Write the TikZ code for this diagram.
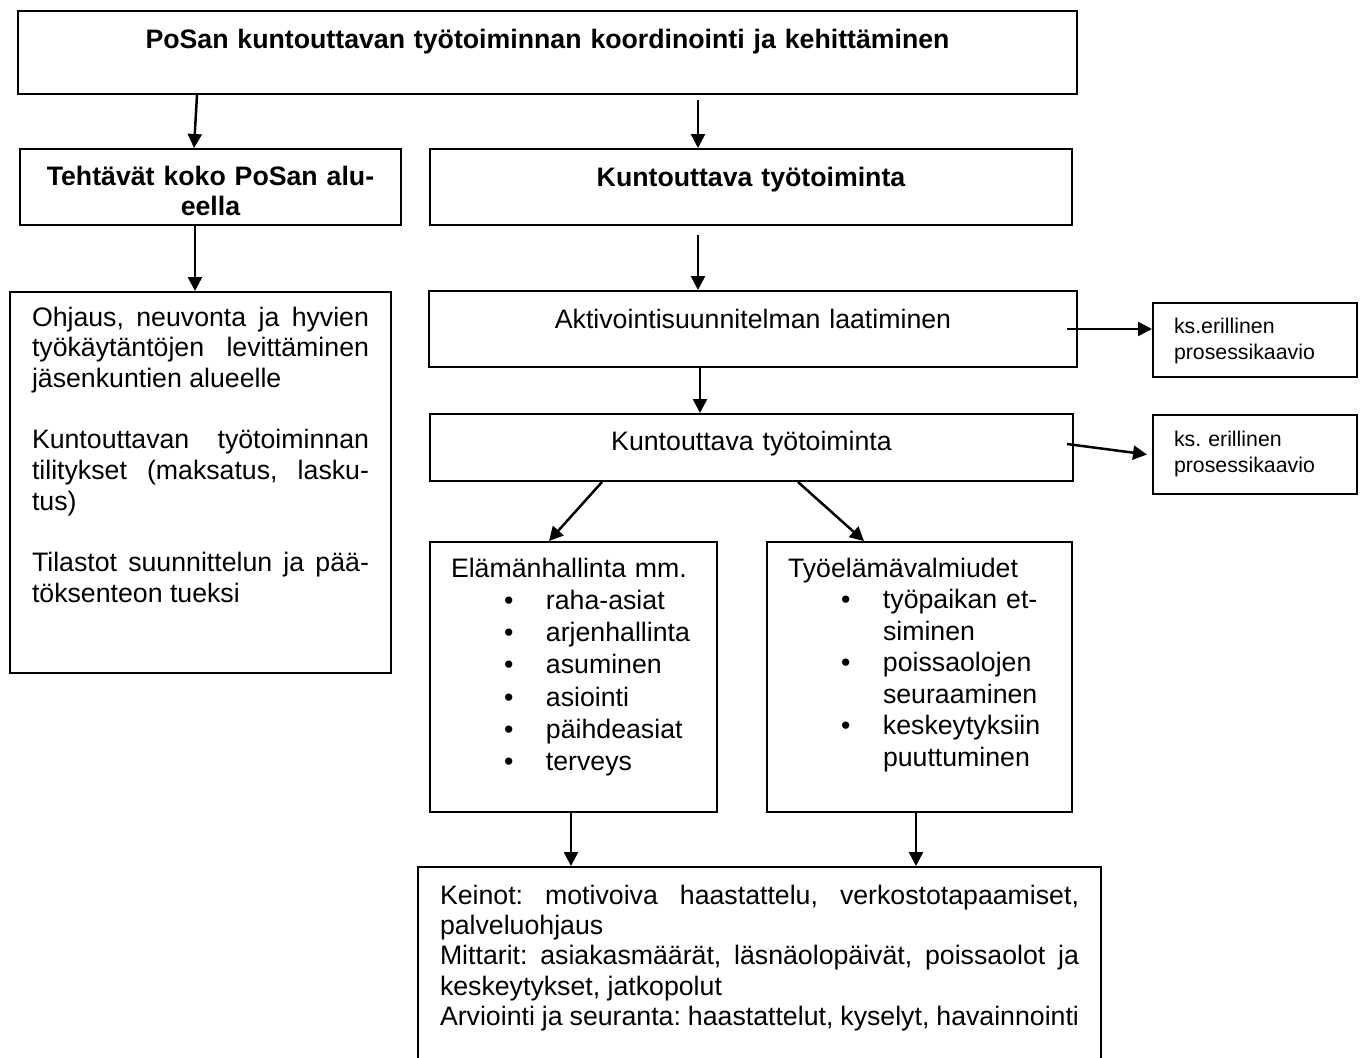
\documentclass[tikz,border=0pt]{standalone}
\usepackage{fontspec}
\setmainfont{Liberation Sans}
\usepackage{tikz}
\usetikzlibrary{arrows.meta}
\tolerance=10000
\hbadness=10000
\hyphenpenalty=10000
\frenchspacing
\newcommand{\bul}{\hspace*{53pt}\makebox[42pt][l]{\textbullet}}
\newcommand{\ind}{\hspace*{95pt}}

\begin{document}
\begin{tikzpicture}[x=1pt,y=-1pt]
        \tikzstyle{every node}=[draw, line width=2pt, anchor=north west, inner ysep=0pt, inner xsep=10pt,
            font=\fontsize{26.7}{30.7}\selectfont, align=center]
        \tikzstyle{head}=[font=\fontsize{26.7}{30.7}\selectfont\bfseries]
        \tikzstyle{small}=[inner xsep=21pt, align=left, font=\fontsize{21.3}{26.5}\selectfont]
        \tikzstyle{list}=[inner xsep=21pt, align=left, font=\fontsize{26.7}{32.3}\selectfont]
        \tikzstyle{arr}=[line width=2.5pt, -{Triangle[length=14pt,width=14pt]}]

        \useasboundingbox (0,0) rectangle (1361,1058);

        \node (ttl) [head, text width=1039pt, text height=37pt, text depth=46pt] at (17,10)
            {PoSan kuntouttavan työtoiminnan koordinointi ja kehittäminen};

        \node (teh) [head, text width=361pt, text height=36pt, text depth=40pt] at (19,148)
            {Tehtävät koko PoSan alu-\\eella};
        \node (kun) [head, text width=622pt, text height=37pt, text depth=39pt] at (429,148)
            {Kuntouttava työtoiminta};

        \node (tasks) [inner xsep=22pt, text width=337pt, text height=34pt, text depth=347pt, align=justify] at (9,291)
            {Ohjaus, neuvonta ja hyvien\linebreak
             työkäytäntöjen levittäminen\linebreak
             jäsenkuntien alueelle\\[30.7pt]
             Kuntouttavan työtoiminnan\linebreak
             tilitykset (maksatus, lasku-\linebreak
             tus)\\[30.7pt]
             Tilastot suunnittelun ja pää-\linebreak
             töksenteon tueksi};

        \node (akt) [text width=628pt, text height=37pt, text depth=39pt] at (428,290)
            {Aktivointisuunnitelman laatiminen};
        \node (ks1) [small, text width=162pt, text height=30pt, text depth=44pt] at (1152,302)
            {ks.erillinen\\prosessikaavio};

        \node (kt2) [text width=623pt, text height=36pt, text depth=31pt] at (429,413)
            {Kuntouttava työtoiminta};
        \node (ks2) [small, text width=162pt, text height=31pt, text depth=48pt] at (1152,414)
            {ks. erillinen\\prosessikaavio};

        \node (ela) [list, text width=245pt, text height=35pt, text depth=235pt] at (429,541)
            {Elämänhallinta mm.\\
             \bul raha-asiat\\
             \bul arjenhallinta\\
             \bul asuminen\\
             \bul asiointi\\
             \bul päihdeasiat\\
             \bul terveys};
        \node (tyo) [list, text width=263pt, text height=35pt, text depth=235pt,
            font=\fontsize{26.7}{31.5}\selectfont] at (766,541)
            {Työelämävalmiudet\\
             \bul työpaikan et-\\
             \ind siminen\\
             \bul poissaolojen\\
             \ind seuraaminen\\
             \bul keskeytyksiin\\
             \ind puuttuminen};

        \node (kei) [inner xsep=22pt, text width=639pt, text height=37pt, text depth=200pt, align=justify,
            font=\fontsize{26.7}{30.4}\selectfont] at (417,866)
            {Keinot: motivoiva haastattelu, verkostotapaamiset,\linebreak
             palveluohjaus\\
             Mittarit: asiakasmäärät, läsnäolopäivät, poissaolot ja\linebreak
             keskeytykset, jatkopolut\\
             Arviointi ja seuranta: haastattelut, kyselyt, havainnointi};

        \draw[arr] ([xshift=-350.5pt]ttl.south) -- ([xshift=-16.5pt]teh.north);
        \draw[arr] ([xshift=150.5pt,yshift=-5pt]ttl.south) -- ([xshift=-53pt]kun.north);
        \draw[arr] ([xshift=-15.5pt]teh.south) -- ([xshift=-5.5pt]tasks.north);
        \draw[arr] ([xshift=-53pt,yshift=-9pt]kun.south) -- ([xshift=-55pt]akt.north);
        \draw[arr] ([xshift=-53pt]akt.south) -- ([xshift=-51.5pt]kt2.north);
        \draw[arr] ([xshift=-11pt]akt.east) -- (akt.east -| ks1.west);
        \draw[arr] ([xshift=-7pt,yshift=3.5pt]kt2.east) -- ([xshift=-5pt]ks2.west);
        \draw[arr] ([xshift=-149.5pt]kt2.south) -- ([xshift=-24.5pt]ela.north);
        \draw[arr] ([xshift=46.5pt]kt2.south) -- ([xshift=-55.5pt]tyo.north);
        \draw[arr] ([xshift=-2.5pt]ela.south) -- ([xshift=-188.5pt]kei.north);
        \draw[arr] ([xshift=-3.5pt]tyo.south) -- ([xshift=156.5pt]kei.north);

    \end{tikzpicture}
\end{document}
